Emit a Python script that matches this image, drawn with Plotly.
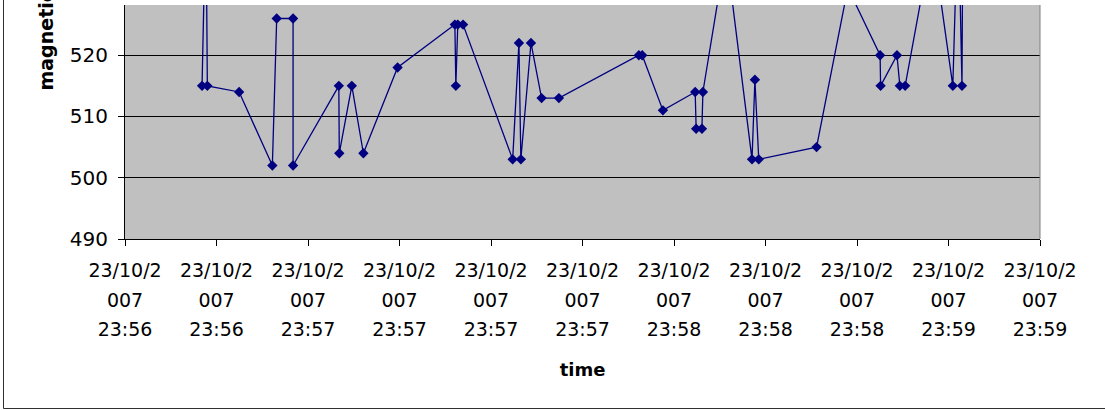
import plotly.graph_objects as go

DAY = "2007-10-23 "

# sample times (hh:mm:ss.s) and magnetic readings
times = [
    "23:56:39.0", "23:56:39.8", "23:56:40.1", "23:56:46.7", "23:56:53.6",
    "23:56:54.5", "23:56:57.9", "23:56:57.9", "23:57:07.4", "23:57:07.5",
    "23:57:10.1", "23:57:12.5", "23:57:19.6", "23:57:31.5", "23:57:31.7",
    "23:57:32.1", "23:57:33.2", "23:57:43.5", "23:57:44.8", "23:57:45.2",
    "23:57:47.3", "23:57:49.5", "23:57:53.1", "23:58:09.7", "23:58:10.4",
    "23:58:14.7", "23:58:21.4", "23:58:21.6", "23:58:22.8", "23:58:23.0",
    "23:58:27.8", "23:58:33.2", "23:58:33.8", "23:58:34.6", "23:58:46.6",
    "23:58:53.1", "23:58:59.8", "23:58:59.9", "23:59:03.3", "23:59:03.9",
    "23:59:05.0", "23:59:10.6", "23:59:14.9", "23:59:16.0", "23:59:16.8",
    "23:59:17.0",
]
values = [
    515, 545, 515, 514, 502,
    526, 526, 502, 515, 504,
    515, 504, 518, 525, 515,
    525, 525, 503, 522, 503,
    522, 513, 513, 520, 520,
    511, 514, 508, 508, 514,
    537, 503, 516, 503, 505,
    531, 520, 515, 520, 515,
    515, 539, 515, 545, 515,
    545,
]

tick_times = [
    "23:56:23", "23:56:42", "23:57:01", "23:57:20", "23:57:39", "23:57:58",
    "23:58:17", "23:58:36", "23:58:55", "23:59:14", "23:59:33",
]
tick_labels = [
    "23/10/2007 23:56", "23/10/2007 23:56", "23/10/2007 23:57",
    "23/10/2007 23:57", "23/10/2007 23:57", "23/10/2007 23:57",
    "23/10/2007 23:58", "23/10/2007 23:58", "23/10/2007 23:58",
    "23/10/2007 23:59", "23/10/2007 23:59",
]
y_range = [490, 528.2]
x_title = "time"
y_title = "magnetic field"

FONT = "DejaVu Sans"
NAVY = "#000080"


def wrap_label(lbl):
    date, clock = lbl.split(" ")
    parts = [date[:7], date[7:], clock]
    return "<br>".join('<span style="font-size:19px">%s</span>' % p for p in parts)


fig = go.Figure()
fig.add_trace(go.Scatter(
    x=[DAY + t for t in times],
    y=values,
    mode="lines+markers",
    line=dict(color=NAVY, width=1.3),
    marker=dict(symbol="diamond", size=8, color=NAVY),
    showlegend=False,
    hoverinfo="x+y",
))

fig.update_layout(
    width=1105, height=410, autosize=False,
    margin=dict(l=125, r=65, t=5, b=171, pad=0),
    paper_bgcolor="white",
    plot_bgcolor="#C0C0C0",
    font=dict(family=FONT, color="black"),
    showlegend=False,
)

fig.update_xaxes(
    type="date",
    range=[DAY + tick_times[0], DAY + tick_times[-1]],
    tickmode="array",
    tickvals=[DAY + t for t in tick_times],
    ticktext=[wrap_label(l) for l in tick_labels],
    ticks="outside", ticklen=6, tickwidth=1, tickcolor="black",
    showline=True, linecolor="black", linewidth=1,
    showgrid=False, zeroline=False,
    tickfont=dict(family=FONT, size=23, color="black"),
    ticklabelstandoff=3,
    title=dict(text="<b>%s</b>" % x_title, font=dict(family=FONT, size=18, color="black"), standoff=23),
    automargin=False,
)
fig.update_yaxes(
    range=y_range,
    tick0=490, dtick=10,
    ticks="outside", ticklen=6, tickwidth=1, tickcolor="black",
    showline=True, linecolor="black", linewidth=1,
    showgrid=True, gridcolor="black", gridwidth=1,
    zeroline=False,
    tickfont=dict(family=FONT, size=20, color="black"),
    ticklabelstandoff=6,
    automargin=False,
)

# y-axis title (centred above the visible area, partly cut off as in the original)
fig.add_annotation(
    text="<b>%s</b>" % y_title, textangle=-90,
    xref="paper", yref="paper",
    x=(45 - 125) / 915, y=(239 - 93) / 234,
    xanchor="center", yanchor="bottom",
    showarrow=False,
    font=dict(family=FONT, size=19, color="black"),
)

# plot-area right border (grey) and chart frame
fig.add_shape(type="line", xref="paper", yref="paper",
              x0=1, x1=1, y0=0, y1=1, line=dict(color="#808080", width=1))
fx = (3.5 - 125) / 915
fy = (239 - 408.5) / 234
fig.add_shape(type="line", xref="paper", yref="paper",
              x0=fx, x1=fx, y0=fy, y1=1.2, line=dict(color="#303030", width=1))
fig.add_shape(type="line", xref="paper", yref="paper",
              x0=fx, x1=1.2, y0=fy, y1=fy, line=dict(color="#303030", width=1))

fig.write_html("out.html", config={"displayModeBar": False},
               post_script="document.body.style.margin='0';")
